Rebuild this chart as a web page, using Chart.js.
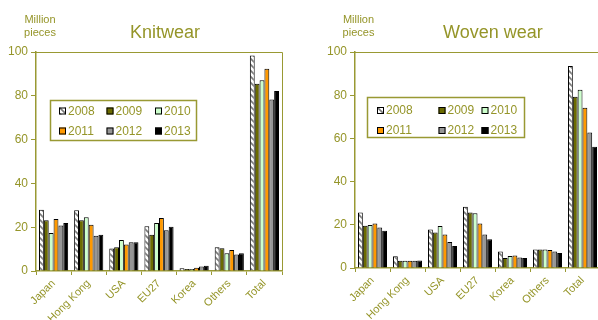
<!DOCTYPE html>
<html>
<head>
<meta charset="utf-8">
<script src="https://cdn.jsdelivr.net/npm/chart.js@4.4.1/dist/chart.umd.min.js"></script>
<style>
html,body{margin:0;padding:0;background:#fff;overflow:hidden;width:598px;height:320px;}
#wrapL{position:absolute;left:0;top:0;width:300px;height:320px;}
#wrapR{position:absolute;left:300px;top:0;width:320px;height:320px;}
</style>
</head>
<body>
<div id="wrapL"><canvas id="knit" width="300" height="320"></canvas></div>
<div id="wrapR"><canvas id="woven" width="320" height="320"></canvas></div>
<script>
// ---- data ----
const categories = ['Japan','Hong Kong','USA','EU27','Korea','Others','Total'];
const years = ['2008','2009','2010','2011','2012','2013'];
const yTicks = [0,20,40,60,80,100];

const knit2008 = [28.0,27.7,10.3,20.4,1.2,10.9,98.4];
const knit2009 = [23.2,23.2,10.9,16.5,0.9,10.4,85.5];
const knit2010 = [17.4,24.6,14.2,21.9,0.9,8.1,87.1];
const knit2011 = [23.8,21.1,12.1,24.2,1.5,9.6,92.3];
const knit2012 = [20.8,16.1,13.1,18.6,2.1,7.5,78.3];
const knit2013 = [21.9,16.6,13.1,20.2,2.4,8.1,82.2];

const woven2008 = [25.7,5.4,17.8,28.3,7.6,8.6,93.5];
const woven2009 = [19.6,3.4,16.4,25.7,4.6,8.6,79.3];
const woven2010 = [19.9,3.4,19.5,25.3,5.5,8.6,82.5];
const woven2011 = [20.6,3.4,15.5,20.6,5.8,8.3,74.2];
const woven2012 = [18.7,3.4,12.0,15.5,4.9,7.6,62.7];
const woven2013 = [17.3,3.5,10.2,13.3,4.6,7.0,56.1];

// ---- styles ----
const OLIVE_TEXT = '#959529';
const OLIVE_LINE = '#999933';
const FONT = 'Liberation Sans, Arial, sans-serif';

function makeHatch(){
  const c = document.createElement('canvas');
  c.width = 6; c.height = 6;
  const g = c.getContext('2d');
  g.fillStyle = '#ffffff'; g.fillRect(0,0,6,6);
  g.strokeStyle = '#7a7a7a'; g.lineWidth = 1.6;
  g.beginPath();
  g.moveTo(-3,3); g.lineTo(3,9);
  g.moveTo(0,0); g.lineTo(6,6);
  g.moveTo(3,-3); g.lineTo(9,3);
  g.stroke();
  return g.createPattern(c,'repeat');
}
const hatch = makeHatch();
const fills = [hatch,'#6b6b00','#ccffcc','#ff9900','#969696','#000000'];

function makeDatasets(series){
  return series.map((d,i)=>({
    label: years[i], data: d, backgroundColor: fills[i],
    borderColor: '#000', borderWidth: 1,
    barPercentage: 1.0, categoryPercentage: 0.83
  }));
}

const decor = {
  id: 'decor',
  afterDatasetsDraw(chart, args, opts){
    const ctx = chart.ctx, a = chart.chartArea;
    ctx.save();
    // frame top/right
    ctx.strokeStyle = OLIVE_LINE; ctx.lineWidth = 1;
    ctx.beginPath();
    ctx.moveTo(a.left, a.top+0.5); ctx.lineTo(a.right+0.5, a.top+0.5); ctx.lineTo(a.right+0.5, a.bottom);
    ctx.stroke();
    // legend box
    const L = opts.legend;
    ctx.fillStyle = '#fff';
    ctx.fillRect(L.x, L.y, L.w, L.h);
    ctx.lineWidth = 1.5; ctx.strokeStyle = OLIVE_LINE;
    ctx.strokeRect(L.x, L.y, L.w, L.h);
    ctx.font = '12px ' + FONT;
    ctx.textBaseline = 'middle'; ctx.textAlign = 'left';
    chart.data.datasets.forEach((ds,i)=>{
      const col = i % 3, row = Math.floor(i/3);
      const sx = L.cols[col], cy = L.rows[row];
      ctx.fillStyle = ds.backgroundColor;
      ctx.fillRect(sx, cy-3.5, 7, 7);
      ctx.lineWidth = 1; ctx.strokeStyle = '#000';
      ctx.strokeRect(sx+0.5, cy-3.5+0.5, 6, 6);
      ctx.fillStyle = OLIVE_TEXT;
      ctx.fillText(ds.label, sx+9, cy+0.5);
    });
    // title + unit label
    ctx.fillStyle = OLIVE_TEXT;
    ctx.textBaseline = 'alphabetic';
    ctx.textAlign = 'left';
    ctx.font = '18px ' + FONT;
    ctx.fillText(opts.title, opts.titleX, 38);
    ctx.font = '11px ' + FONT;
    ctx.textAlign = 'center';
    ctx.fillText('Million', opts.unitX, 23);
    ctx.fillText('pieces', opts.unitX, 36);
    ctx.restore();
  }
};

function makeChart(id, series, cfg){
  return new Chart(document.getElementById(id), {
    type: 'bar',
    data: { labels: categories, datasets: makeDatasets(series) },
    plugins: [decor],
    options: {
      responsive: false, animation: false, devicePixelRatio: 1,
      layout: { padding: { top: 52, right: cfg.padRight, left: 0, bottom: 0 } },
      plugins: {
        legend: { display: false }, tooltip: { enabled: false },
        decor: { legend: cfg.legend, title: cfg.title, titleX: cfg.titleX, unitX: cfg.unitX }
      },
      scales: {
        x: {
          offset: true,
          grid: { display: true, offset: true, drawOnChartArea: false, drawTicks: true, tickLength: 4, color: OLIVE_LINE, lineWidth: 1 },
          border: { display: true, color: OLIVE_LINE, width: 1.5 },
          ticks: { color: OLIVE_TEXT, font: { family: FONT, size: 11 }, maxRotation: 45, minRotation: 45, padding: 2, autoSkip: false },
          afterFit(s){ s.height = cfg.xHeight; s.paddingLeft = 0; s.paddingRight = 0; }
        },
        y: {
          min: 0, max: 100,
          afterBuildTicks(s){ s.ticks = yTicks.map(v=>({value:v})); },
          grid: { display: true, drawOnChartArea: false, drawTicks: true, tickLength: 5, color: OLIVE_LINE, lineWidth: 1 },
          border: { display: true, color: OLIVE_LINE, width: 1.5 },
          ticks: { color: OLIVE_TEXT, font: { family: FONT, size: 12 }, padding: 3 },
          afterFit(s){ s.width = cfg.yWidth; s.paddingTop = 0; s.paddingBottom = 0; }
        }
      }
    }
  });
}

makeChart('knit', [knit2008,knit2009,knit2010,knit2011,knit2012,knit2013], {
  padRight: 18, xHeight: 49, yWidth: 36,
  title: 'Knitwear', titleX: 130, unitX: 40,
  legend: { x: 50.5, y: 100.5, w: 146, h: 40, cols: [59, 106.5, 155], rows: [111, 131] }
});
makeChart('woven', [woven2008,woven2009,woven2010,woven2011,woven2012,woven2013], {
  padRight: 20, xHeight: 52, yWidth: 55,
  title: 'Woven wear', titleX: 143, unitX: 58.5,
  legend: { x: 67.5, y: 97.5, w: 157, h: 40, cols: [77, 138.5, 181.5], rows: [110.5, 130.5] }
});
</script>
</body>
</html>
